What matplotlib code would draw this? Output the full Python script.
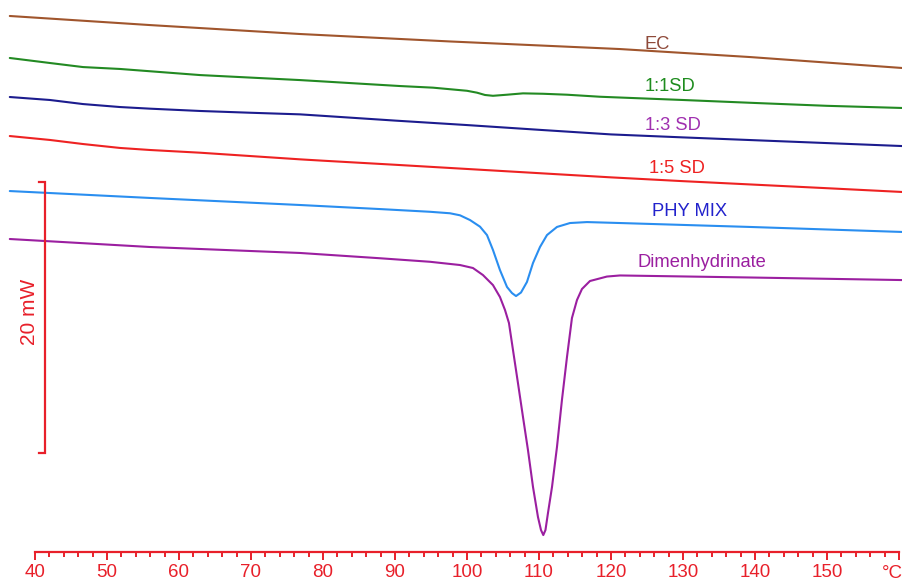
import matplotlib
matplotlib.use("Agg")
import matplotlib.pyplot as plt
from matplotlib.ticker import FixedLocator, FixedFormatter

plt.rcParams['font.family'] = ['Liberation Sans', 'DejaVu Sans']

# Heat flow (mW, curves offset for display) versus temperature (°C)
ec_t = [36.5, 55.97, 76.81, 97.64, 121.25, 139.3, 160.5]
ec_mw = [39.56, 38.89, 38.23, 37.68, 37.12, 36.53, 35.72]

sd11_t = [36.5, 42.08, 46.67, 51.81, 62.92, 76.81, 80, 85, 90.7, 95.28, 100.0,
          101.39, 102.5, 103.61, 105.56, 107.78, 110.56, 113.89, 118.47, 130,
          140, 150, 160.5]
sd11_mw = [36.46, 36.09, 35.79, 35.65, 35.20, 34.83, 34.73, 34.57, 34.39, 34.27,
           34.04, 33.90, 33.73, 33.67, 33.75, 33.85, 33.82, 33.75, 33.60, 33.36,
           33.14, 32.93, 32.77]

sd13_t = [36.5, 42.08, 46.67, 51.81, 55.97, 62.92, 69.86, 76.81, 80, 90, 100,
          110, 120, 130, 140, 150, 160.5]
sd13_mw = [33.58, 33.36, 33.06, 32.84, 32.72, 32.55, 32.42, 32.30, 32.19, 31.84,
           31.51, 31.16, 30.82, 30.60, 30.39, 30.18, 29.96]

sd15_t = [36.5, 42.08, 46.67, 51.81, 55.97, 62.92, 76.81, 80, 90, 100, 110, 120,
          130, 140, 150, 160.5]
sd15_mw = [30.70, 30.41, 30.11, 29.82, 29.67, 29.47, 28.98, 28.88, 28.58, 28.27,
           27.96, 27.65, 27.37, 27.11, 26.85, 26.57]

phy_t = [36.5, 55.97, 76.81, 87.92, 94.86, 97.64, 99.03, 100.42, 101.81, 102.78,
         103.61, 104.58, 105.56, 106.25, 106.81, 107.50, 108.33, 109.17, 110.14,
         111.11, 112.50, 114.31, 116.67, 121.25, 139.3, 160.5]
phy_mw = [26.64, 26.13, 25.61, 25.31, 25.11, 25.00, 24.85, 24.50, 24.01, 23.39,
          22.29, 20.81, 19.56, 19.11, 18.89, 19.15, 19.93, 21.33, 22.51, 23.39,
          23.99, 24.28, 24.35, 24.28, 23.99, 23.62]

dim_t = [36.5, 55.97, 76.81, 87.92, 94.86, 99.03, 100.83, 102.22, 103.61, 104.58,
         105.28, 105.83, 106.39, 107.08, 107.78, 108.47, 109.17, 109.86, 110.28,
         110.60, 110.90, 111.25, 111.81, 112.50, 113.19, 113.89, 114.58, 115.28,
         115.97, 117.08, 119.44, 121.25, 139.3, 160.5]
dim_mw = [23.10, 22.51, 22.07, 21.68, 21.42, 21.18, 20.96, 20.44, 19.70, 18.82,
          17.86, 16.90, 14.91, 12.47, 9.96, 7.53, 4.80, 2.58, 1.62, 1.25, 1.62,
          2.88, 4.80, 7.75, 11.22, 14.39, 17.27, 18.60, 19.41, 20.00, 20.33, 20.41,
          20.26, 20.07]

names = ["EC", "1:1SD", "1:3 SD", "1:5 SD", "PHY MIX", "Dimenhydrinate"]
line_colors = ["#a0552d", "#238a23", "#1c1c8e", "#ee2222", "#2a8ef0", "#9b1fa0"]
label_colors = ["#8f4a3a", "#1e8c1e", "#a030b0", "#ee2222", "#2222cc", "#9b1fa0"]
label_t = [124.7, 124.7, 124.7, 125.3, 125.7, 123.75]
label_mw = [37.42, 34.35, 31.51, 28.30, 25.13, 21.37]

x_ticks = [40, 50, 60, 70, 80, 90, 100, 110, 120, 130, 140, 150, 160]
x_tick_labels = ["40", "50", "60", "70", "80", "90", "100", "110", "120", "130",
                 "140", "150", ""]
x_minor = [t for t in range(42, 160, 2) if t % 10]

scale_mw = 20
scale_base = 7.3

axis_red = "#e8202a"

fig = plt.figure(figsize=(9.03, 5.81), dpi=100)
ax = fig.add_axes([0, 0, 1, 1])
ax.set_xlim(35.14, 160.56)
ax.set_ylim(-2.14, 40.74)

series = [(ec_t, ec_mw), (sd11_t, sd11_mw), (sd13_t, sd13_mw),
          (sd15_t, sd15_mw), (phy_t, phy_mw), (dim_t, dim_mw)]
for (t, mw), c in zip(series, line_colors):
    ax.plot(t, mw, color=c, lw=1.5, solid_joinstyle='round',
            solid_capstyle='round')

for name, c, tx, ty in zip(names, label_colors, label_t, label_mw):
    ax.text(tx, ty, name, color=c, fontsize=13.2, ha='left', va='center')

# temperature axis
for s in ['left', 'right', 'top']:
    ax.spines[s].set_visible(False)
ax.spines['bottom'].set_position(('data', 0))
ax.spines['bottom'].set_bounds(40, 160)
ax.spines['bottom'].set_color(axis_red)
ax.spines['bottom'].set_linewidth(1.6)
ax.xaxis.set_major_locator(FixedLocator(x_ticks))
ax.xaxis.set_major_formatter(FixedFormatter(x_tick_labels))
ax.xaxis.set_minor_locator(FixedLocator(x_minor))
ax.tick_params(axis='x', which='major', direction='out', length=6, width=1.4,
               color=axis_red, labelcolor=axis_red, labelsize=13.5, pad=2.5)
ax.tick_params(axis='x', which='minor', direction='out', length=3.5, width=1.4,
               color=axis_red)
ax.set_yticks([])
ax.text(157.6, -1.6, "°C", color=axis_red, fontsize=13.5, ha='left', va='center')

# 20 mW scale bar
bar_x = 41.39
cap = 0.85
ax.plot([bar_x - cap, bar_x, bar_x, bar_x - cap],
        [scale_base + scale_mw, scale_base + scale_mw, scale_base, scale_base],
        color=axis_red, lw=1.6, solid_joinstyle='miter')
ax.text(39.3, scale_base + scale_mw / 2 + 0.4, f"{scale_mw} mW", color=axis_red,
        fontsize=15, rotation=90, ha='center', va='center')

fig.savefig("out.png", dpi=100)
